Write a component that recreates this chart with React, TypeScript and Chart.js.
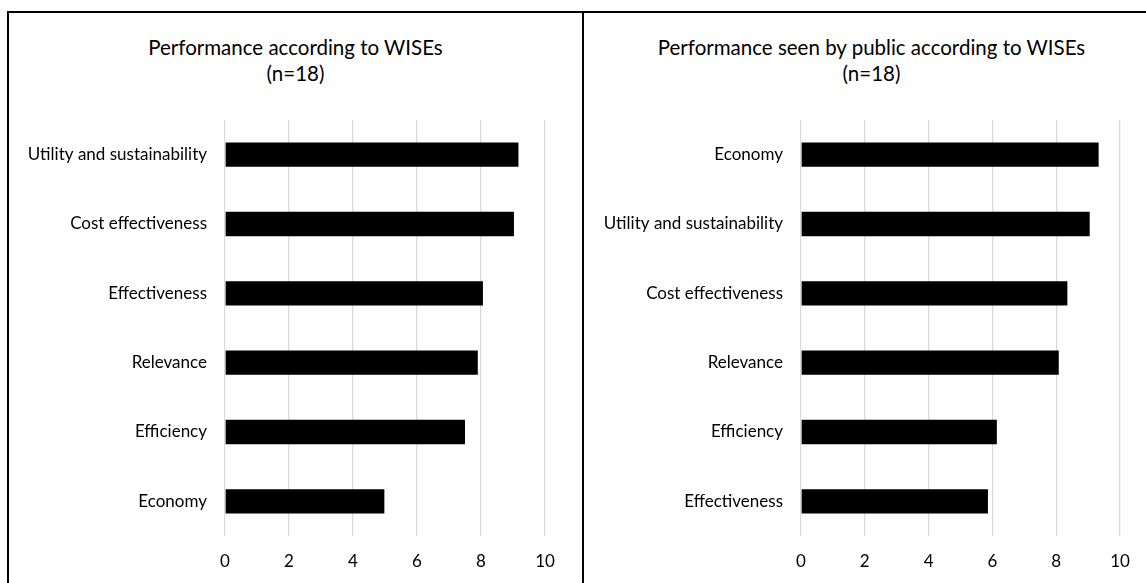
import React, { useEffect, useRef } from "react";
import { Chart, registerables, ChartConfiguration } from "chart.js";

Chart.register(...registerables);

const FONT = "Lato, 'Open Sans', sans-serif";

// left panel: performance according to WISEs
const wiseTitle = ["Performance according to WISEs", "(n=18)"];
const wiseCategories = [
  "Utility and sustainability",
  "Cost effectiveness",
  "Effectiveness",
  "Relevance",
  "Efficiency",
  "Economy",
];
const wiseValues = [9.17, 9.03, 8.06, 7.9, 7.5, 4.98];

// right panel: performance seen by public
const publicTitle = ["Performance seen by public according to WISEs", "(n=18)"];
const publicCategories = [
  "Economy",
  "Utility and sustainability",
  "Cost effectiveness",
  "Relevance",
  "Efficiency",
  "Effectiveness",
];
const publicValues = [9.33, 9.05, 8.35, 8.08, 6.14, 5.86];

// x axis ticks
const axisMin = 0;
const axisMax = 10;
const axisStep = 2;

type PanelProps = {
  title: string[],
  categories: string[],
  values: number[],
  left: number,
  width: number,
  padRight: number,
  axisWidth: number,
};

const Panel = (props: PanelProps) => {
  const { title, categories, values, left, width, padRight, axisWidth } = props;
  const canvas = useRef<HTMLCanvasElement>(null);

  useEffect(() => {
    const ctxt = canvas.current.getContext("2d");
    const config: ChartConfiguration = {
      type: "bar",
      data: {
        labels: categories,
        datasets: [{
          data: values,
          backgroundColor: "#000",
          borderWidth: 0,
          barPercentage: 0.35,
          categoryPercentage: 1,
        }],
      },
      options: {
        indexAxis: "y",
        responsive: false,
        animation: false,
        layout: { padding: { left: 0, right: padRight, top: 107, bottom: 0 } },
        plugins: {
          legend: { display: false },
          tooltip: { enabled: false },
          title: { display: false },
        },
        scales: {
          x: {
            min: axisMin,
            max: axisMax,
            border: { display: false },
            grid: { color: "#d9d9d9", lineWidth: 1.3, drawTicks: false },
            ticks: {
              stepSize: axisStep,
              color: "#000",
              padding: 15,
              font: { family: FONT, size: 17 },
            },
            afterFit: (s: any) => { s.height = 47; },
          },
          y: {
            border: { display: false },
            grid: { display: false, drawTicks: false },
            ticks: {
              color: "#000",
              padding: 18,
              font: { family: FONT, size: 17 },
            },
            afterFit: (s: any) => { s.width = axisWidth; },
          },
        },
      },
    };
    const chart = new Chart(ctxt, config);
    return () => chart.destroy();
  }, []);

  return (
    <div style={{ position: "absolute", left, top: 13, width, height: 570 }}>
      {/* title is centred on the whole box, not on the plot */}
      <div style={{
        position: "absolute", left: 0, top: 21, width, textAlign: "center",
        fontFamily: FONT, fontSize: 20.5, lineHeight: "26px", color: "#000",
      }}>
        {title.map((t) => <div key={t}>{t}</div>)}
      </div>
      <canvas ref={canvas} width={width} height={570}
        style={{ position: "absolute", left: 0, top: 0, width, height: 570 }} />
    </div>
  );
};

export default function App() {
  return (
    <div style={{
      position: "absolute", left: 0, top: 0, width: 1146, height: 583,
      overflow: "hidden", background: "#fff",
    }}>
      <div style={{
        position: "absolute", left: 7, top: 11, width: 1200, height: 700,
        border: "2px solid #000",
      }} />
      <div style={{
        position: "absolute", left: 582, top: 11, width: 2, height: 700,
        background: "#000",
      }} />
      <Panel title={wiseTitle} categories={wiseCategories} values={wiseValues}
        left={9} width={573} padRight={37} axisWidth={216} />
      <Panel title={publicTitle} categories={publicCategories}
        values={publicValues} left={584} width={575} padRight={39} axisWidth={217} />
    </div>
  );
}
